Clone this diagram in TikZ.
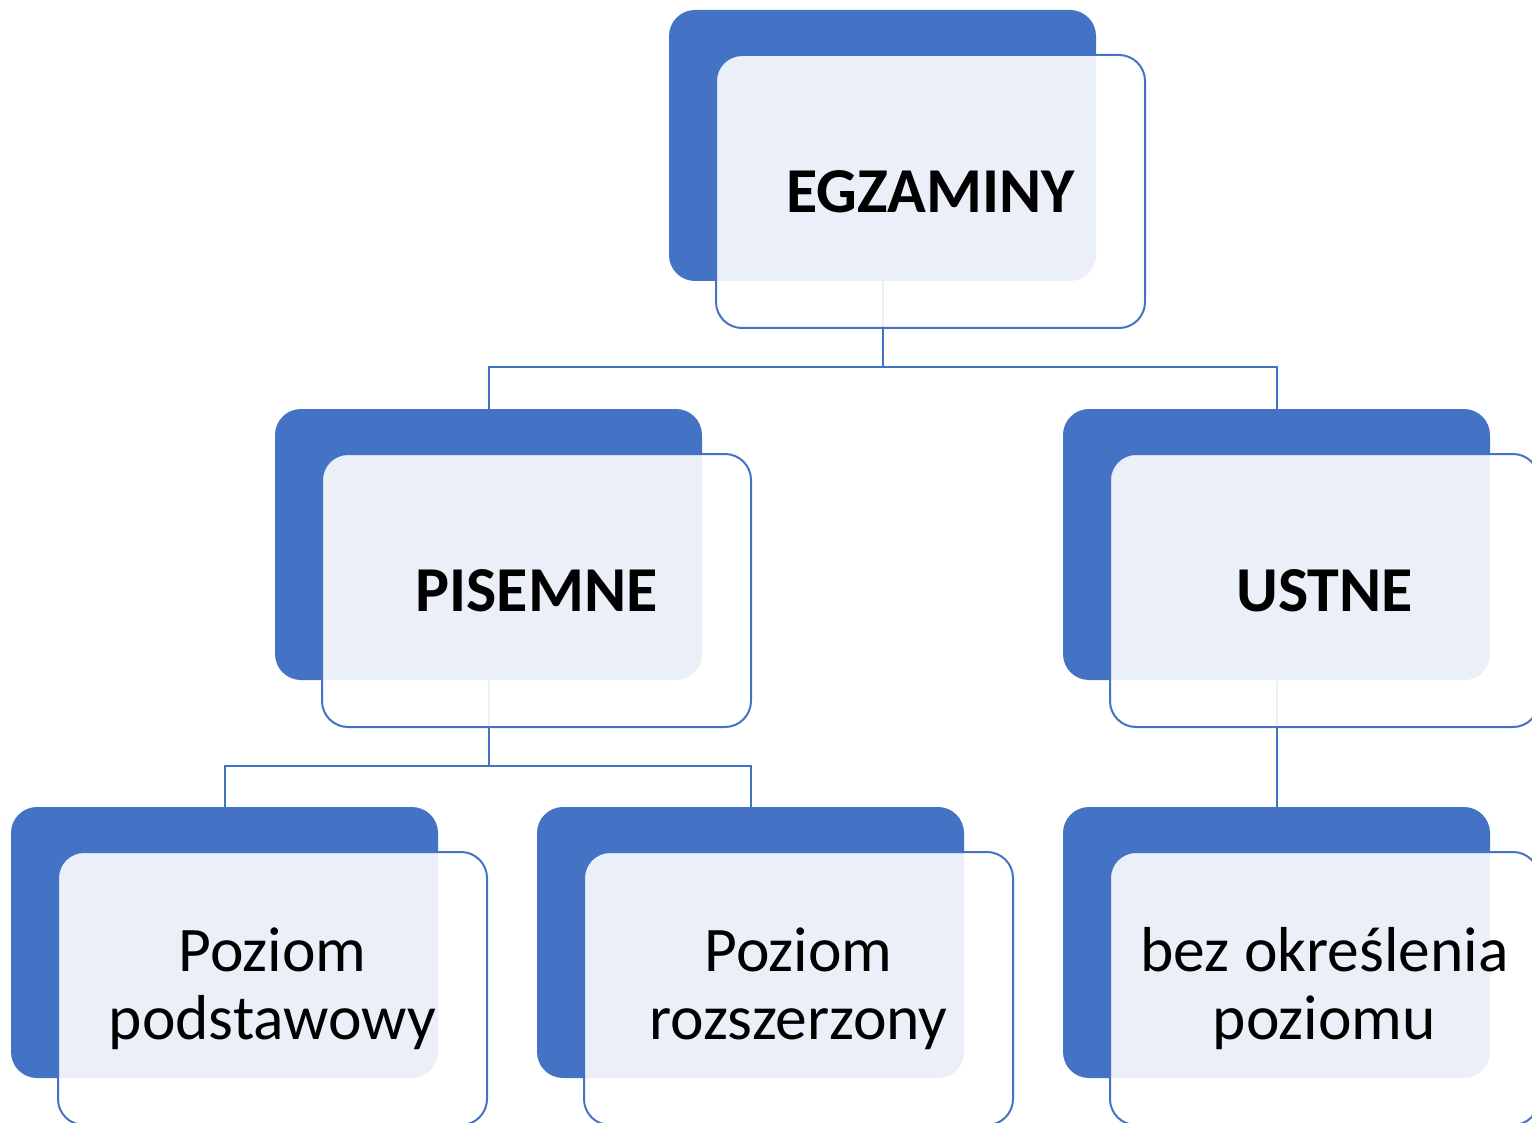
\documentclass[tikz,border=0pt]{standalone}
\usepackage{fontspec}
\setmainfont{Carlito}
\usepackage{tikz}
\usetikzlibrary{positioning,calc}
\definecolor{boxblue}{HTML}{4472C4}
\tikzset{
back/.style={
  rectangle,
  rounded corners=26pt,
  fill=boxblue,
  minimum width=427pt,
  minimum height=271pt,
  inner sep=0pt
},
front/.style={
  rectangle,
  rounded corners=26pt,
  draw=boxblue,
  line width=2pt,
  fill=white,
  fill opacity=0.89,
  text opacity=1,
  minimum width=429pt,
  minimum height=273pt,
  inner sep=0pt,
  align=center
},
head/.style={front, font=\fontsize{64}{68}\selectfont\bfseries},
leaf/.style={front, font=\fontsize{63.5}{68}\selectfont},
link/.style={draw=boxblue, line width=2pt}
}

\begin{document}
\begin{tikzpicture}[x=1pt,y=1pt]
    \useasboundingbox (0,0) rectangle (1532,-1123);
    \clip (0,0) rectangle (1532,-1123);
    % back boxes
    \node[back] (egz) at (882.5,-145.5) {};
    \node[back] (pis) at (488.5,-544.5) {};
    \node[back] (ust) at (1276.5,-544.5) {};
    \node[back] (pod) at (224.5,-942.5) {};
    \node[back] (roz) at (750.5,-942.5) {};
    \node[back] (bez) at (1276.5,-942.5) {};
    % connectors
    \coordinate (j1) at ([yshift=-86pt]egz.south);
    \coordinate (j2) at ([yshift=-86pt]pis.south);
    \draw[link] (egz.south) -- (j1) -| (pis.north);
    \draw[link] (j1) -| (ust.north);
    \draw[link] (pis.south) -- (j2) -| (pod.north);
    \draw[link] (j2) -| (roz.north);
    \draw[link] (ust.south) -- (bez.north);
    % front boxes
    \node[head] (egzF) at ([shift={(48pt,-46pt)}]egz) {EGZAMINY};
    \node[head] (pisF) at ([shift={(48pt,-46pt)}]pis) {PISEMNE};
    \node[head] (ustF) at ([shift={(48pt,-46pt)}]ust) {USTNE};
    \node[leaf] (podF) at ([shift={(48pt,-46pt)}]pod) {Poziom\\podstawowy};
    \node[leaf] (rozF) at ([shift={(48pt,-46pt)}]roz) {Poziom\\rozszerzony};
    \node[leaf] (bezF) at ([shift={(48pt,-46pt)}]bez) {bez określenia\\poziomu};
\end{tikzpicture}
\end{document}
